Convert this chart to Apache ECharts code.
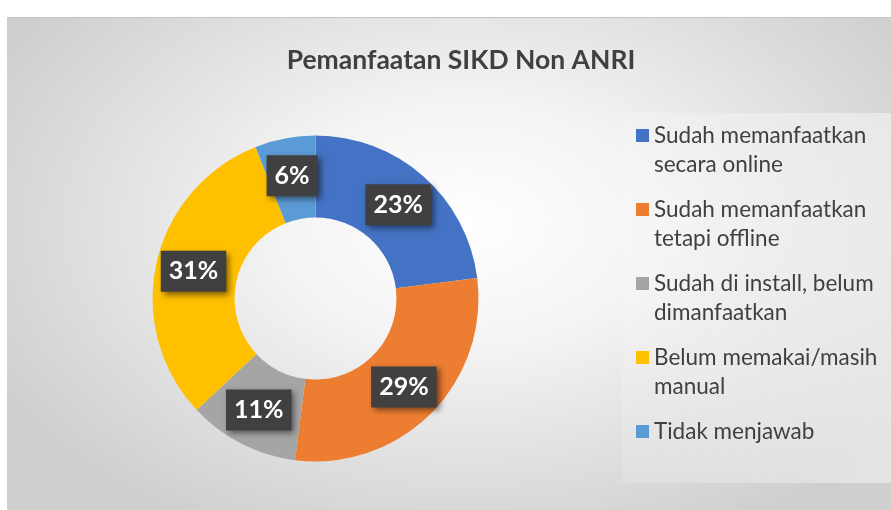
<!DOCTYPE html>
<html>
<head>
<meta charset="utf-8">
<script src="https://cdn.jsdelivr.net/npm/echarts@6/dist/echarts.min.js"></script>
<style>
  html, body { margin: 0; padding: 0; background: #fff; }
  #wrap { position: relative; width: 891px; height: 510px; overflow: hidden; }
  /* panel area of the chart, radial light-grey background */
  #panel {
    position: absolute; left: 7px; top: 18px; width: 884px; height: 492px;
    background: radial-gradient(ellipse 60% 70% at 52% 42%, #ffffff 0%, #f4f4f4 35%, #dddddd 75%, #cfcfcf 100%);
    box-shadow: 0 -1px 0 #c4c4c4;
  }
  #chart { position: absolute; left: 0; top: 0; width: 891px; height: 510px; }
</style>
</head>
<body>
<div id="wrap">
  <div id="panel"></div>
  <div id="chart"></div>
</div>
<script>
// ---- data ----
const categories = [
  'Sudah memanfaatkan\nsecara online',
  'Sudah memanfaatkan\ntetapi offline',
  'Sudah di install, belum\ndimanfaatkan',
  'Belum memakai/masih\nmanual',
  'Tidak menjawab'
];
const values = [23, 29, 11, 31, 6];
const colors = ['#4472C4', '#ED7D31', '#A5A5A5', '#FFC000', '#5B9BD5'];

const FONT = 'Lato, "Open Sans", sans-serif';

const chart = echarts.init(document.getElementById('chart'), null, { renderer: 'canvas' });

chart.setOption({
  backgroundColor: 'transparent',
  animation: false,
  color: colors,
  title: {
    text: 'Pemanfaatan SIKD Non ANRI',
    left: 456, top: 42,
    textAlign: 'center',
    textStyle: { fontFamily: FONT, fontSize: 26.5, fontWeight: 'bold', color: '#404040' }
  },
  graphic: [{
    type: 'rect', left: 622, top: 113, z: -1, silent: true,
    shape: { width: 269, height: 370 },
    style: {
      fill: new echarts.graphic.LinearGradient(0, 0, 1, 0, [
        { offset: 0, color: 'rgba(255,255,255,0.15)' },
        { offset: 1, color: 'rgba(255,255,255,0.45)' }
      ])
    }
  }],
  legend: {
    orient: 'vertical',
    left: 636, top: 92,
    padding: 0,
    itemWidth: 13, itemHeight: 13, itemGap: -13,
    icon: 'rect',
    // a blank first line keeps the marker beside the first text line;
    // single-line names also get a blank last line so every item is 3 lines tall
    formatter: name => ' \n' + (name.indexOf('\n') >= 0 ? name : name + '\n '),
    textStyle: {
      fontFamily: FONT, fontSize: 22.5, lineHeight: 29, color: '#404040'
    },
    data: categories
  },
  series: [{
    type: 'pie',
    center: [315.5, 298.5],
    radius: [81, 163],
    startAngle: 90,
    clockwise: true,
    avoidLabelOverlap: false,
    label: {
      show: true,
      position: 'inside',
      formatter: '{c}%',
      fontFamily: FONT, fontSize: 25, fontWeight: 'bold', color: '#ffffff',
      backgroundColor: '#404040',
      padding: [9, 8, 7, 8],
      shadowColor: 'rgba(0,0,0,0.5)', shadowBlur: 6, shadowOffsetX: 3, shadowOffsetY: 3
    },
    labelLine: { show: false },
    emphasis: { disabled: true },
    data: categories.map((c, i) => ({ name: c, value: values[i] }))
  }]
});
</script>
</body>
</html>
